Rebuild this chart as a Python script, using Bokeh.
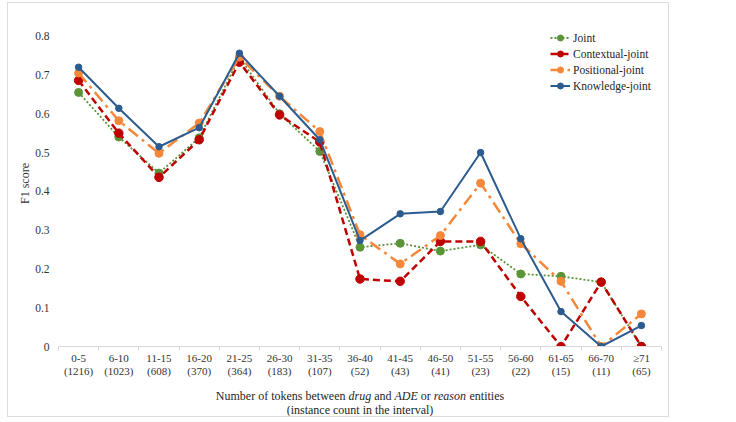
from bokeh.plotting import figure
from bokeh.layouts import column
from bokeh.models import (Range1d, FixedTicker, NumeralTickFormatter, Legend, LegendItem, Label)
from bokeh.embed import file_html
from bokeh.resources import INLINE

# ---- data ----
categories = ["0-5", "6-10", "11-15", "16-20", "21-25", "26-30", "31-35", "36-40",
              "41-45", "46-50", "51-55", "56-60", "61-65", "66-70", "\u226571"]
counts = [1216, 1023, 608, 370, 364, 183, 107, 52, 43, 41, 23, 22, 15, 11, 65]

joint = [0.655, 0.540, 0.447, 0.538, 0.745, 0.600, 0.503, 0.256, 0.266, 0.246,
         0.262, 0.187, 0.181, 0.166, 0.000]
contextual = [0.686, 0.550, 0.436, 0.533, 0.733, 0.597, 0.527, 0.174, 0.168, 0.271,
              0.271, 0.129, 0.000, 0.166, 0.000]
positional = [0.705, 0.582, 0.498, 0.576, 0.746, 0.645, 0.554, 0.288, 0.213, 0.286,
              0.421, 0.265, 0.168, 0.000, 0.084]
knowledge = [0.720, 0.614, 0.515, 0.564, 0.756, 0.645, 0.533, 0.273, 0.342, 0.348,
             0.500, 0.278, 0.090, 0.000, 0.054]

y_ticks = [0, 0.1, 0.2, 0.3, 0.4, 0.5, 0.6, 0.7, 0.8]

FONT = "Liberation Serif"
xs = list(range(len(categories)))
x_range = Range1d(-0.5, len(categories) - 0.5)

p = figure(frame_width=603, frame_height=326,
           min_border_left=50, min_border_right=7, min_border_top=17, min_border_bottom=44,
           x_range=x_range, y_range=Range1d(0, 0.8404),
           output_backend="svg", toolbar_location=None, background_fill_color="white",
           border_fill_color="white")
p.outline_line_color = None
p.xgrid.visible = False
p.ygrid.visible = False

# x axis
xa = p.xaxis[0]
xa.ticker = FixedTicker(ticks=xs, minor_ticks=[i - 0.5 for i in range(len(categories) + 1)])
xa.major_label_overrides = {i: f"{c}\n({n})" for i, (c, n) in enumerate(zip(categories, counts))}
xa.major_tick_out = 0
xa.major_tick_in = 0
xa.minor_tick_out = 4
xa.minor_tick_in = 0
xa.minor_tick_line_color = "#d9d9d9"
xa.axis_line_color = "#d9d9d9"
xa.major_label_text_font = FONT
xa.major_label_text_font_size = "11px"
xa.major_label_text_color = "#333333"
xa.major_label_text_line_height = 1.1
xa.major_label_standoff = 1

# y axis
ya = p.yaxis[0]
ya.ticker = FixedTicker(ticks=y_ticks)
ya.formatter = NumeralTickFormatter(format="0.[0]")
ya.axis_line_color = None
ya.major_tick_out = 0
ya.major_tick_in = 0
ya.minor_tick_out = 0
ya.minor_tick_in = 0
ya.major_label_text_font = FONT
ya.major_label_text_font_size = "11.5px"
ya.major_label_text_color = "#333333"
ya.major_label_standoff = 9
ya.axis_label = "F1 score"
ya.axis_label_text_font = FONT
ya.axis_label_text_font_size = "12px"
ya.axis_label_text_font_style = "normal"
ya.axis_label_text_color = "#333333"
ya.axis_label_standoff = 0

series = [
    ("Joint", joint, "#5B9436", "2 2", 1.8, 8),
    ("Contextual-joint", contextual, "#C00000", "7 4", 2.5, 8.5),
    ("Positional-joint", positional, "#F4883A", "12 5 3 5", 2.5, 8),
    ("Knowledge-joint", knowledge, "#2B5B8F", "solid", 2, 6.5),
]
items = []
for name, vals, col, dash, lw, ms in series:
    r1 = p.line(xs, vals, line_color=col, line_width=lw, line_dash=dash)
    r2 = p.scatter(xs, vals, size=ms, fill_color=col, line_color=col)
    items.append(LegendItem(label=name, renderers=[r1, r2]))

legend = Legend(items=items, location=(492, 253), orientation="vertical",
                label_text_font=FONT, label_text_font_size="11.5px", label_text_color="#262626",
                glyph_width=20, glyph_height=15, label_height=15, label_standoff=3,
                spacing=1, padding=0, margin=0, border_line_color=None,
                background_fill_alpha=0)
p.add_layout(legend, "center")

# ---- x-axis title strip (with italic words) ----
t = figure(frame_width=603, frame_height=26, min_border_left=50, min_border_right=7,
           min_border_top=0, min_border_bottom=0, x_range=x_range, y_range=Range1d(0, 1),
           x_axis_location=None, y_axis_location=None,
           output_backend="svg", toolbar_location=None, background_fill_color="white",
           border_fill_color="white")
t.outline_line_color = None
t.xgrid.visible = False
t.ygrid.visible = False

# Times metrics, 1/1000 em
REG = {' ': 250, 'N': 722, 'u': 500, 'm': 778, 'b': 500, 'e': 444, 'r': 333, 'o': 500,
       'f': 333, 't': 278, 'k': 500, 'n': 500, 's': 389, 'w': 722, 'a': 444, 'd': 500,
       'i': 278, 'c': 444, 'h': 500, 'l': 278, 'v': 500, 'A': 722, 'D': 722, 'E': 611}
ITA = {'d': 500, 'r': 389, 'u': 500, 'g': 500, 'A': 611, 'D': 722, 'E': 611, 'e': 444,
       'a': 500, 's': 389, 'o': 500, 'n': 500}
title_parts = [("Number of tokens between", False), ("drug", True), ("and", False),
               ("ADE", True), ("or", False), ("reason", True), ("entities", False)]
fs = 12.0
def width(txt, it):
    tab = ITA if it else REG
    return sum(tab.get(ch, 500) for ch in txt) * fs / 1000.0
space = REG[' '] * fs / 1000.0
total = sum(width(s, it) for s, it in title_parts) + space * (len(title_parts) - 1)
xcenter = (len(categories) - 1) / 2.0
off = -total / 2.0
for s, it in title_parts:
    t.add_layout(Label(x=xcenter, x_units="data", y=20.3, y_units="screen", x_offset=off,
                       text=s, text_font=FONT, text_font_size="12px",
                       text_font_style="italic" if it else "normal",
                       text_color="#262626", text_align="left", text_baseline="middle"))
    off += width(s, it) + space
t.add_layout(Label(x=xcenter, x_units="data", y=6.7, y_units="screen",
                   text="(instance count in the interval)", text_font=FONT,
                   text_font_size="12px", text_color="#262626", text_align="center",
                   text_baseline="middle"))

layout = column(p, t, spacing=0,
                styles={"border": "1px solid #dcdcdc", "margin-left": "7px", "margin-top": "2px"})

open("out.html", "w").write(file_html(layout, INLINE))
